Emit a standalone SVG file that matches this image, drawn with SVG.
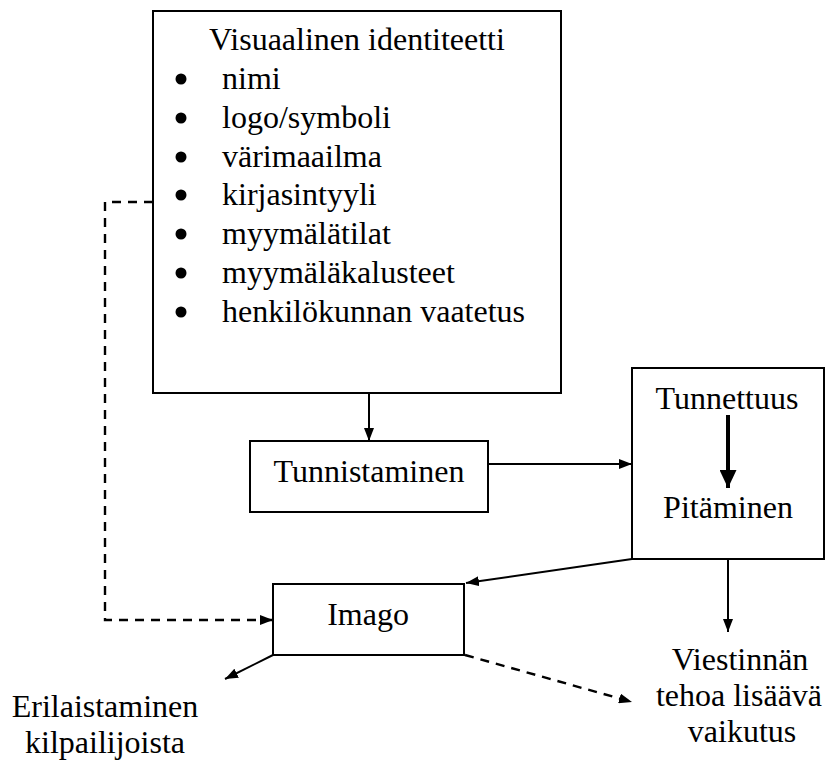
<svg xmlns="http://www.w3.org/2000/svg" width="825" height="763" viewBox="0 0 825 763">
  <style>
    .box { fill: #fff; stroke: #000; stroke-width: 2; }
    .t { font-family: "Liberation Serif", "Times New Roman", serif; font-size: 32px; fill: #000; }
    .c { text-anchor: middle; }
    .ln { fill: none; stroke: #000; stroke-width: 2; }
    .dash { fill: none; stroke: #000; stroke-width: 2.4; stroke-dasharray: 9 7; }
  </style>
  <defs>
    <marker id="ah" markerUnits="userSpaceOnUse" markerWidth="13" markerHeight="10" refX="13" refY="5" orient="auto">
      <path d="M0,0 L13,5 L0,10 z" fill="#000"/>
    </marker>
    <marker id="ahBig" markerUnits="userSpaceOnUse" markerWidth="18" markerHeight="17" refX="18" refY="8.5" orient="auto">
      <path d="M0,0 L18,8.5 L0,17 z" fill="#000"/>
    </marker>
  </defs>

  <rect width="825" height="763" fill="#fff"/>

  <g id="visuaalinen-identiteetti">
    <rect class="box" x="153" y="11" width="408" height="382"/>
    <text class="t c" x="357" y="50">Visuaalinen identiteetti</text>
    <g fill="#000">
      <circle cx="181" cy="79" r="5.5"/>
      <circle cx="181" cy="118" r="5.5"/>
      <circle cx="181" cy="157" r="5.5"/>
      <circle cx="181" cy="195" r="5.5"/>
      <circle cx="181" cy="234" r="5.5"/>
      <circle cx="181" cy="273" r="5.5"/>
      <circle cx="181" cy="312" r="5.5"/>
    </g>
    <text class="t" x="222" y="89">nimi</text>
    <text class="t" x="222" y="128">logo/symboli</text>
    <text class="t" x="222" y="167">värimaailma</text>
    <text class="t" x="222" y="205">kirjasintyyli</text>
    <text class="t" x="222" y="244">myymälätilat</text>
    <text class="t" x="222" y="283">myymäläkalusteet</text>
    <text class="t" x="222" y="322">henkilökunnan vaatetus</text>
  </g>

  <g id="tunnistaminen">
    <rect class="box" x="250" y="441" width="238" height="71"/>
    <text class="t c" x="369" y="482">Tunnistaminen</text>
  </g>

  <g id="tunnettuus-pitaminen">
    <rect class="box" x="632" y="368" width="192" height="191"/>
    <text class="t c" x="727" y="409">Tunnettuus</text>
    <line x1="728" y1="415" x2="728" y2="488" stroke="#000" stroke-width="4" marker-end="url(#ahBig)"/>
    <text class="t c" x="728" y="518">Pitäminen</text>
  </g>

  <g id="imago">
    <rect class="box" x="273" y="584" width="191" height="71"/>
    <text class="t c" x="368" y="625">Imago</text>
  </g>

  <g id="erilaistaminen">
    <text class="t c" x="105" y="717">Erilaistaminen</text>
    <text class="t c" x="105" y="753">kilpailijoista</text>
  </g>

  <g id="viestinnan-teho">
    <text class="t c" x="740" y="670">Viestinnän</text>
    <text class="t c" x="739" y="706">tehoa lisäävä</text>
    <text class="t c" x="742" y="742">vaikutus</text>
  </g>

  <g id="connectors">
    <line class="ln" x1="369" y1="393" x2="369" y2="441" marker-end="url(#ah)"/>
    <line class="ln" x1="488" y1="464" x2="632" y2="464" marker-end="url(#ah)"/>
    <line class="ln" x1="728" y1="559" x2="728" y2="632" marker-end="url(#ah)"/>
    <line class="ln" x1="632" y1="559" x2="466" y2="583" stroke-width="2.5" marker-end="url(#ah)"/>
    <line class="ln" x1="273" y1="655" x2="225" y2="679" stroke-width="2.5" marker-end="url(#ah)"/>
    <path class="dash" d="M153,202 H105 V620 H273" marker-end="url(#ah)"/>
    <line class="dash" x1="465" y1="655" x2="632" y2="702" marker-end="url(#ah)"/>
  </g>
</svg>
